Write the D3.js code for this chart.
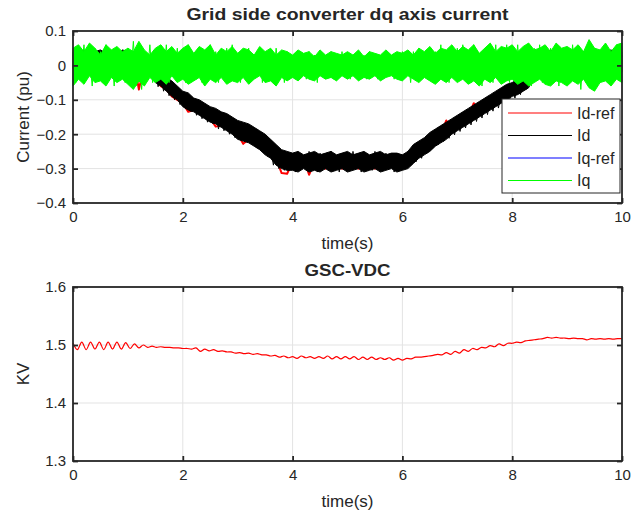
<!DOCTYPE html>
<head>
  <meta charset="utf-8" />
  <script src="https://cdn.jsdelivr.net/npm/d3@7"></script>
  <style>
    body {
      margin: 0;
      background: #fff;
    }
    text {
      font-family: "Liberation Sans", Arial, sans-serif;
      fill: #262626;
    }
    .grid line {
      stroke: #e3e3e3;
    }
    .frame {
      fill: none;
      stroke: #262626;
      stroke-width: 1.8;
    }
  </style>
</head>

<body>
  <script>
    // sample step of the current traces (s)
    var dt = 0.05;
    // Id-ref and the noise envelopes are read at a coarser step
    var dtEnv = 0.1;
    // Vdc step (s)
    var dtV = 0.08;

    var timeTicks = [0, 2, 4, 6, 8, 10];
    var currentTicks = [0.1, 0, -0.1, -0.2, -0.3, -0.4];
    var vdcTicks = [1.3, 1.4, 1.5, 1.6];
    var legendNames = ["Id-ref", "Id", "Iq-ref", "Iq"];
    var legendColors = ["#ff0000", "#000000", "#0000ff", "#00ff00"];

    var idRef = [
      0.01, 0.02, 0.0, 0.03, -0.01, 0.02, 0.01, 0.03, 0.0, 0.02,
      0.01, 0.02, -0.07, 0.0, -0.02, -0.04, -0.06, -0.07, -0.09, -0.1,
      -0.11, -0.135, -0.13, -0.135, -0.15, -0.155, -0.178, -0.175, -0.18, -0.19,
      -0.2, -0.228, -0.215, -0.225, -0.24, -0.25, -0.26, -0.27, -0.313, -0.315,
      -0.28, -0.3, -0.27, -0.318, -0.28, -0.29, -0.3, -0.28, -0.29, -0.3,
      -0.28, -0.29, -0.3, -0.28, -0.29, -0.3, -0.28, -0.29, -0.28, -0.29,
      -0.28, -0.27, -0.26, -0.25, -0.215, -0.22, -0.21, -0.2, -0.16, -0.185,
      -0.17, -0.16, -0.15, -0.11, -0.13, -0.12, -0.11, -0.1, -0.09, -0.085,
      -0.08, -0.07, -0.06, -0.05, 0.01, 0.02, 0.01, 0.02, 0.01, 0.02,
      0.01, 0.02, 0.01, 0.02, 0.01, 0.02, 0.01, 0.02, 0.01, 0.02, 0.01
    ];

    // Id: upper and lower edge of the noise band
    var idHi = [
      0.04, 0.035, 0.045, 0.03, 0.04, 0.045, 0.035, 0.04, 0.03, 0.045,
      0.04, 0.03, 0.035, 0.02, 0.015, -0.01, -0.02, -0.035, -0.045, -0.06,
      -0.075, -0.08, -0.095, -0.1, -0.11, -0.12, -0.125, -0.135, -0.14, -0.15,
      -0.16, -0.165, -0.17, -0.18, -0.19, -0.2, -0.215, -0.23, -0.245, -0.25,
      -0.255, -0.25, -0.26, -0.255, -0.25, -0.26, -0.255, -0.25, -0.26, -0.255,
      -0.25, -0.26, -0.255, -0.25, -0.26, -0.255, -0.25, -0.26, -0.255, -0.255,
      -0.26, -0.25, -0.23, -0.22, -0.21, -0.195, -0.185, -0.175, -0.165, -0.155,
      -0.145, -0.135, -0.125, -0.115, -0.105, -0.095, -0.085, -0.075, -0.065, -0.055,
      -0.05, -0.04, -0.035, -0.025, 0.035, 0.04, 0.03, 0.045, 0.035, 0.04,
      0.035, 0.045, 0.03, 0.04, 0.035, 0.045, 0.03, 0.04, 0.045, 0.035, 0.04
    ];
    var idLo = [
      -0.01, 0.0, -0.015, -0.005, -0.01, 0.0, -0.015, -0.01, -0.005, -0.01,
      -0.01, -0.015, -0.005, -0.01, -0.02, -0.05, -0.06, -0.075, -0.09, -0.1,
      -0.12, -0.13, -0.135, -0.145, -0.155, -0.165, -0.17, -0.18, -0.19, -0.2,
      -0.215, -0.22, -0.225, -0.235, -0.245, -0.26, -0.27, -0.29, -0.3, -0.305,
      -0.305, -0.31, -0.3, -0.31, -0.305, -0.31, -0.3, -0.31, -0.305, -0.3,
      -0.31, -0.305, -0.3, -0.31, -0.305, -0.3, -0.31, -0.305, -0.3, -0.31,
      -0.305, -0.3, -0.285, -0.27, -0.26, -0.25, -0.235, -0.225, -0.215, -0.2,
      -0.19, -0.18, -0.17, -0.16, -0.15, -0.14, -0.13, -0.12, -0.11, -0.1,
      -0.09, -0.085, -0.075, -0.065, -0.03, -0.02, -0.025, -0.03, -0.015, -0.02,
      -0.025, -0.02, -0.03, -0.015, -0.025, -0.02, -0.03, -0.02, -0.025, -0.015, -0.02
    ];

    var id = [
      0.03, 0.0, 0.04, -0.01, 0.03, 0.01, 0.045, -0.02, 0.03, 0.0,
      0.04, 0.01, 0.035, -0.01, 0.045, 0.0, 0.03, 0.01, 0.04, -0.015,
      0.03, 0.0, 0.04, -0.02, 0.035, 0.01, 0.02, -0.04, 0.01, -0.02,
      -0.015, -0.062, -0.03, -0.075, -0.04, -0.088, -0.055, -0.1, -0.068, -0.114,
      -0.08, -0.125, -0.09, -0.135, -0.1, -0.145, -0.11, -0.155, -0.12, -0.165,
      -0.13, -0.17, -0.135, -0.185, -0.145, -0.19, -0.155, -0.2, -0.16, -0.21,
      -0.17, -0.215, -0.175, -0.22, -0.185, -0.23, -0.19, -0.24, -0.195, -0.25,
      -0.22, -0.265, -0.235, -0.29, -0.25, -0.3, -0.26, -0.305, -0.255, -0.3,
      -0.26, -0.31, -0.255, -0.3, -0.265, -0.305, -0.25, -0.3, -0.26, -0.31,
      -0.255, -0.3, -0.26, -0.305, -0.25, -0.3, -0.265, -0.31, -0.255, -0.3,
      -0.26, -0.305, -0.25, -0.3, -0.26, -0.31, -0.255, -0.3, -0.265, -0.305,
      -0.25, -0.3, -0.26, -0.305, -0.255, -0.3, -0.26, -0.31, -0.255, -0.3,
      -0.26, -0.3, -0.25, -0.29, -0.245, -0.28, -0.235, -0.27, -0.225, -0.255,
      -0.206, -0.241, -0.196, -0.231, -0.186, -0.221, -0.177, -0.212, -0.167, -0.202,
      -0.157, -0.192, -0.147, -0.182, -0.138, -0.173, -0.128, -0.163, -0.118, -0.153,
      -0.108, -0.143, -0.098, -0.133, -0.089, -0.124, -0.079, -0.114, -0.069, -0.104,
      -0.06, -0.095, -0.05, -0.085, -0.035, -0.07, -0.025, 0.01, 0.04, -0.01,
      0.03, -0.01, 0.04, 0.0, 0.035, -0.02, 0.03, 0.01, 0.045, -0.01,
      0.03, 0.0, 0.04, -0.01, 0.035, 0.01, 0.03, -0.02, 0.04, 0.0,
      0.035, -0.01, 0.03, 0.01, 0.04, -0.02, 0.03, 0.0, 0.035, -0.01, 0.03
    ];

    // Iq-ref sits on zero over the whole run
    var iqRef = [0, 0];

    // Iq: upper and lower edge of the noise band
    var iqHi = [
      0.05, 0.06, 0.04, 0.065, 0.05, 0.03, 0.06, 0.045, 0.055, 0.04,
      0.05, 0.04, 0.07, 0.045, 0.03, 0.05, 0.06, 0.04, 0.055, 0.035,
      0.05, 0.06, 0.035, 0.055, 0.045, 0.06, 0.03, 0.05, 0.04, 0.055,
      0.035, 0.05, 0.045, 0.03, 0.055, 0.04, 0.05, 0.03, 0.045, 0.04,
      0.03, 0.045, 0.035, 0.04, 0.025, 0.045, 0.03, 0.04, 0.035, 0.03,
      0.04, 0.03, 0.045, 0.025, 0.04, 0.035, 0.03, 0.045, 0.03, 0.04,
      0.035, 0.045, 0.03, 0.05, 0.04, 0.055, 0.035, 0.05, 0.045, 0.06,
      0.04, 0.055, 0.045, 0.06, 0.035, 0.05, 0.065, 0.04, 0.055, 0.05,
      0.06, 0.04, 0.055, 0.065, 0.045, 0.05, 0.06, 0.04, 0.065, 0.05,
      0.055, 0.045, 0.06, 0.04, 0.075, 0.05, 0.045, 0.065, 0.04, 0.06, 0.065
    ];
    var iqLo = [
      -0.06, -0.04, -0.055, -0.03, -0.05, -0.045, -0.06, -0.035, -0.05, -0.04,
      -0.055, -0.07, -0.045, -0.06, -0.035, -0.05, -0.04, -0.055, -0.03, -0.05,
      -0.04, -0.055, -0.045, -0.035, -0.06, -0.04, -0.05, -0.035, -0.055, -0.045,
      -0.05, -0.035, -0.055, -0.04, -0.03, -0.05, -0.045, -0.06, -0.035, -0.045,
      -0.035, -0.045, -0.03, -0.04, -0.045, -0.03, -0.04, -0.035, -0.045, -0.03,
      -0.04, -0.03, -0.045, -0.035, -0.04, -0.03, -0.045, -0.035, -0.03, -0.04,
      -0.045, -0.03, -0.04, -0.05, -0.035, -0.045, -0.055, -0.04, -0.05, -0.035,
      -0.05, -0.04, -0.055, -0.045, -0.06, -0.04, -0.05, -0.035, -0.055, -0.045,
      -0.04, -0.055, -0.045, -0.06, -0.05, -0.04, -0.055, -0.06, -0.045, -0.05,
      -0.06, -0.045, -0.055, -0.04, -0.065, -0.075, -0.05, -0.045, -0.06, -0.04, -0.05
    ];

    var iq = [
      0.03, -0.05, 0.05, -0.02, 0.06, -0.04, 0.02, -0.06, 0.05, -0.03,
      0.04, -0.05, 0.06, -0.02, 0.03, -0.06, 0.05, -0.04, 0.02, -0.05,
      0.05, -0.03, 0.07, -0.06, 0.04, -0.07, 0.03, -0.04, 0.06, -0.05,
      0.02, -0.04, 0.05, -0.03, 0.06, -0.05, 0.03, -0.02, 0.05, -0.04,
      0.04, -0.05, 0.06, -0.02, 0.03, -0.04, 0.05, -0.05, 0.02, -0.03,
      0.06, -0.04, 0.04, -0.05, 0.03, -0.02, 0.05, -0.04, 0.06, -0.03,
      0.02, -0.05, 0.04, -0.03, 0.05, -0.04, 0.03, -0.02, 0.05, -0.05,
      0.04, -0.03, 0.02, -0.04, 0.05, -0.03, 0.03, -0.05, 0.04, -0.02,
      0.03, -0.04, 0.04, -0.03, 0.02, -0.04, 0.04, -0.02, 0.03, -0.05,
      0.04, -0.03, 0.03, -0.02, 0.04, -0.04, 0.02, -0.03, 0.04, -0.03,
      0.03, -0.04, 0.02, -0.03, 0.04, -0.02, 0.03, -0.04, 0.04, -0.03,
      0.02, -0.04, 0.03, -0.03, 0.04, -0.02, 0.03, -0.04, 0.02, -0.03,
      0.04, -0.03, 0.03, -0.05, 0.04, -0.02, 0.05, -0.04, 0.03, -0.03,
      0.05, -0.05, 0.04, -0.02, 0.06, -0.04, 0.03, -0.05, 0.05, -0.03,
      0.05, -0.04, 0.06, -0.03, 0.04, -0.05, 0.06, -0.04, 0.03, -0.06,
      0.05, -0.03, 0.04, -0.05, 0.06, -0.04, 0.05, -0.02, 0.06, -0.05,
      0.04, -0.03, 0.06, -0.05, 0.05, -0.04, 0.03, -0.06, 0.05, -0.03,
      0.06, -0.05, 0.04, -0.04, 0.05, -0.03, 0.06, -0.06, 0.04, -0.05,
      0.05, -0.04, 0.06, -0.03, 0.05, -0.07, 0.04, -0.05, 0.07, -0.04,
      0.05, -0.06, 0.03, -0.04, 0.06, -0.05, 0.04, -0.03, 0.06, -0.04, 0.05
    ];

    var vdc = [
      1.503, 1.492, 1.505, 1.492, 1.505, 1.493, 1.505, 1.492, 1.505, 1.493,
      1.505, 1.493, 1.504, 1.494, 1.502, 1.495, 1.5, 1.496, 1.498, 1.496,
      1.497, 1.496, 1.496, 1.495, 1.495, 1.494, 1.494, 1.493, 1.495, 1.489,
      1.493, 1.49, 1.492, 1.489, 1.49, 1.488, 1.488, 1.486, 1.487, 1.485,
      1.486, 1.484, 1.485, 1.483, 1.483, 1.481, 1.482, 1.479, 1.481, 1.478,
      1.48, 1.477, 1.481, 1.478, 1.48, 1.477, 1.48, 1.477, 1.481, 1.476,
      1.48, 1.476, 1.48, 1.476, 1.48, 1.475, 1.479, 1.475, 1.479, 1.475,
      1.478, 1.475, 1.478, 1.474, 1.477, 1.474, 1.477, 1.476, 1.479, 1.479,
      1.48, 1.481, 1.482, 1.484, 1.483, 1.487, 1.484, 1.489, 1.486, 1.492,
      1.489, 1.494, 1.492, 1.496, 1.495, 1.499, 1.497, 1.502, 1.499, 1.503,
      1.503, 1.505, 1.504, 1.507, 1.508, 1.509, 1.51, 1.511, 1.513, 1.512,
      1.513, 1.512, 1.512, 1.511, 1.512, 1.511, 1.511, 1.509, 1.511, 1.51,
      1.511, 1.51, 1.511, 1.51, 1.511, 1.511
    ];

    var W = 643, H = 514;
    var svg = d3.select("body").append("svg").attr("width", W).attr("height", H);

    var x = d3.scaleLinear().domain([0, 10]).range([73, 622]);
    var y1 = d3.scaleLinear().domain([-0.4, 0.1]).range([203, 31]);
    var y2 = d3.scaleLinear().domain([1.3, 1.6]).range([461, 287]);

    function panel(y, yTicks, fmt, title, titleLen, ylabel) {
      var top = y.range()[1], bot = y.range()[0];
      var g = svg.append("g");

      var grid = g.append("g").attr("class", "grid");
      grid.selectAll(".gx").data(timeTicks.slice(1, -1)).enter().append("line")
        .attr("x1", x).attr("x2", x).attr("y1", top).attr("y2", bot);
      grid.selectAll(".gy").data(yTicks.filter(function(d) {
        return y(d) > top + 1 && y(d) < bot - 1;
      })).enter().append("line")
        .attr("x1", x(0)).attr("x2", x(10))
        .attr("y1", y).attr("y2", y);

      var plot = g.append("g");

      // axes with ticks inside, on all four sides
      var fr = g.append("g");
      fr.append("g").attr("transform", "translate(0," + bot + ")")
        .call(d3.axisBottom(x).tickValues(timeTicks).tickSizeInner(-5).tickSizeOuter(0).tickPadding(8));
      fr.append("g").attr("transform", "translate(0," + top + ")")
        .call(d3.axisTop(x).tickValues(timeTicks).tickSizeInner(-5).tickSizeOuter(0).tickFormat(""));
      fr.append("g").attr("transform", "translate(" + x(0) + ",0)")
        .call(d3.axisLeft(y).tickValues(yTicks).tickSizeInner(-5).tickSizeOuter(0).tickPadding(7).tickFormat(fmt));
      fr.append("g").attr("transform", "translate(" + x(10) + ",0)")
        .call(d3.axisRight(y).tickValues(yTicks).tickSizeInner(-5).tickSizeOuter(0).tickFormat(""));
      fr.selectAll(".domain").remove();
      fr.selectAll(".tick line").attr("stroke", "#262626").attr("stroke-width", 1.8);
      fr.selectAll(".tick text").style("font-size", "15px").attr("fill", "#262626");
      fr.append("rect").attr("class", "frame")
        .attr("x", x(0)).attr("y", top).attr("width", x(10) - x(0)).attr("height", bot - top);

      g.append("text").attr("x", (x(0) + x(10)) / 2).attr("y", top - 11)
        .attr("text-anchor", "middle").style("font-size", "17px").style("font-weight", "bold")
        .attr("textLength", titleLen).attr("lengthAdjust", "spacingAndGlyphs")
        .text(title);
      g.append("text").attr("x", (x(0) + x(10)) / 2).attr("y", bot + 46)
        .attr("text-anchor", "middle").style("font-size", "17px").text("time(s)");
      g.append("text")
        .attr("transform", "translate(29," + (top + bot) / 2 + ") rotate(-90)")
        .attr("text-anchor", "middle").style("font-size", "17px").text(ylabel);
      return plot;
    }

    var p1 = panel(y1, currentTicks, function(d) { return d === 0 ? "0" : d3.format(".1f")(d); },
      "Grid side converter dq axis current", 322, "Current (pu)");
    var p2 = panel(y2, vdcTicks, d3.format(".1f"), "GSC-VDC", 86, "KV");

    function trace(g, data, step, yScale, color, width, curve) {
      var line = d3.line()
        .x(function(d, i) { return x(i * step); })
        .y(function(d) { return yScale(d); });
      if (curve) line.curve(curve);
      g.append("path").datum(data)
        .attr("fill", "none").attr("stroke", color).attr("stroke-width", width)
        .attr("stroke-linejoin", "round")
        .attr("d", line);
    }

    function band(g, hi, lo, step, yScale, color) {
      var area = d3.area()
        .x(function(d, i) { return x(i * step); })
        .y0(function(d, i) { return yScale(lo[i]); })
        .y1(function(d) { return yScale(d); });
      g.append("path").datum(hi)
        .attr("fill", color).attr("stroke", color).attr("stroke-width", 1)
        .attr("d", area);
    }

    trace(p1, idRef, dtEnv, y1, legendColors[0], 2);
    band(p1, idHi, idLo, dtEnv, y1, legendColors[1]);
    trace(p1, id, dt, y1, legendColors[1], 1);
    trace(p1, iqRef, 10, y1, legendColors[2], 1);
    band(p1, iqHi, iqLo, dtEnv, y1, legendColors[3]);
    trace(p1, iq, dt, y1, legendColors[3], 1);
    trace(p2, vdc, dtV, y2, "#ff0000", 1.2, d3.curveCatmullRom);

    // legend
    var lg = svg.append("g").attr("transform", "translate(502,99)");
    lg.append("rect").attr("width", 118).attr("height", 94)
      .attr("fill", "#fff").attr("stroke", "#262626").attr("stroke-width", 1);
    var item = lg.selectAll(".item").data(legendNames).enter().append("g")
      .attr("transform", function(d, i) { return "translate(0," + (14 + i * 22.5) + ")"; });
    item.append("line").attr("x1", 6).attr("x2", 70)
      .attr("stroke", function(d, i) { return legendColors[i]; }).attr("stroke-width", 1.2);
    item.append("text").attr("x", 75).attr("dy", "0.35em").style("font-size", "16px")
      .text(function(d) { return d; });
  </script>
</body>
